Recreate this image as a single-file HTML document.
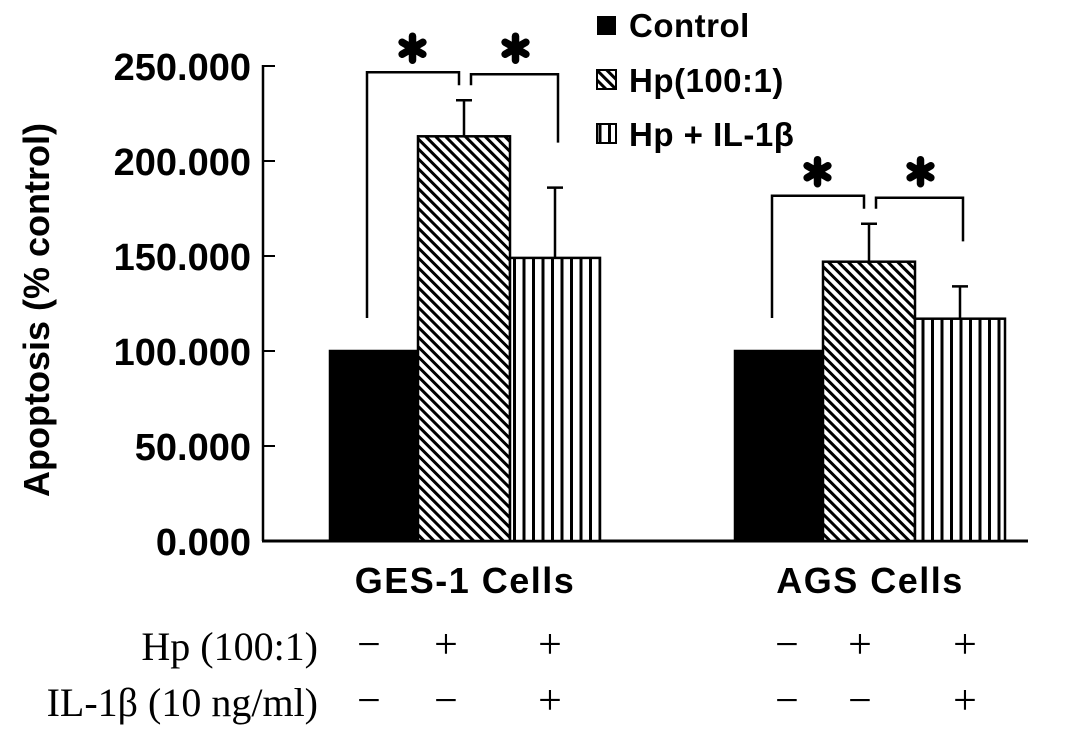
<!DOCTYPE html>
<html><head><meta charset="utf-8"><style>
html,body{margin:0;padding:0;background:#fff;}
svg{display:block;}
text{font-family:"Liberation Sans",sans-serif;fill:#000;}
.b{font-weight:bold;}
.s{font-family:"Liberation Serif",serif;}
</style></head><body>
<svg id="chart" width="1087" height="741" viewBox="0 0 1087 741">
<defs>
<pattern id="diag" patternUnits="userSpaceOnUse" width="7" height="7" patternTransform="rotate(-45)">
<rect width="7" height="7" fill="#fff"/><rect x="0" y="0" width="3" height="7" fill="#000"/></pattern>
<pattern id="vert" patternUnits="userSpaceOnUse" width="9.5" height="10">
<rect width="9.5" height="10" fill="#fff"/><rect x="0" y="0" width="3" height="10" fill="#000"/></pattern>
</defs>
<g id="plot"></g>
<text class="s" x="318" y="660" text-anchor="end" font-size="40">Hp (100:1)</text>
<text class="s" x="318" y="716" text-anchor="end" font-size="40">IL-1β (10 ng/ml)</text>
<g>
<rect x="597" y="16" width="19" height="19" fill="#000"/>
<text class="b" x="629" y="37" font-size="33" letter-spacing="0.5">Control</text>
<rect x="597" y="70" width="19" height="19" fill="url(#diag)" stroke="#000" stroke-width="2"/>
<text class="b" x="629" y="92" font-size="33" letter-spacing="0.5">Hp(100:1)</text>
<rect x="597" y="124" width="19" height="19" fill="url(#vert)" stroke="#000" stroke-width="2"/>
<text class="b" x="629" y="146" font-size="33" letter-spacing="0.5">Hp + IL-1β</text>
</g>
</svg>
<script>
const groups = ["GES-1 Cells", "AGS Cells"];
const controlVals = [100, 100];
const hpVals = [213, 147];
const ilVals = [149, 117];
const hpErr = [19, 20];
const ilErr = [37, 17];
const yTicks = [0, 50, 100, 150, 200, 250];
const yTickLabels = ["0.000","50.000","100.000","150.000","200.000","250.000"];

const NS = "http://www.w3.org/2000/svg";
const g = document.getElementById("plot");
const y = v => 541 - v * 1.9;
const groupLeft = [330, 735];
const barW = [88, 92, 90];
function mk(tag, attrs, parent) {
  const e = document.createElementNS(NS, tag);
  for (const k in attrs) e.setAttribute(k, attrs[k]);
  (parent || g).appendChild(e);
  return e;
}
function txt(s, attrs) { const t = mk("text", attrs); t.textContent = s; return t; }
function star(cx, cy) {
  let d = "";
  for (let i = 0; i < 3; i++) {
    const a = Math.PI / 2 + i * Math.PI / 3;
    const dx = 12 * Math.cos(a), dy = 12 * Math.sin(a);
    d += `M${cx - dx},${cy - dy} L${cx + dx},${cy + dy} `;
  }
  const s = mk("path", {d: d, stroke: "#000", "stroke-width": 7.5, "stroke-linecap": "round", fill: "none"});
  
  
}

let e = mk("line", {x1:263, y1:y(0), x2:263, y2:y(250)-1, stroke:"#000","stroke-width":2.5});


e = mk("line", {x1:262, y1:y(0), x2:1028, y2:y(0), stroke:"#000","stroke-width":3});


yTicks.forEach((v, i) => {
  let t = mk("line", {x1:263, y1:y(v), x2:275, y2:y(v), stroke:"#000","stroke-width":2});
  
  
  let l = txt(yTickLabels[i], {x:251, y:y(v)+14, "text-anchor":"end", "font-size":38, class:"b"});
  
  
});
e = txt("Apoptosis (% control)", {x:0, y:0, "text-anchor":"middle", "font-size":36, class:"b", transform:"translate(49,310) rotate(-90)"});



const fills = ["#000", "url(#diag)", "url(#vert)"];
groups.forEach((name, gi) => {
  const vals = [controlVals[gi], hpVals[gi], ilVals[gi]];
  const errs = [0, hpErr[gi], ilErr[gi]];
  let x = groupLeft[gi];
  const centers = [], tops = [];
  vals.forEach((v, si) => {
    const w = barW[si];
    let r = mk("rect", {x:x, y:y(v), width:w, height:y(0)-y(v), fill:fills[si], stroke:"#000","stroke-width":2.5});
    
    
    const cx = x + w/2;
    centers.push(cx); tops.push(v + errs[si]);
    if (errs[si]) {
      let eb = mk("path", {d:`M${cx},${y(v)} V${y(v+errs[si])} M${cx-8},${y(v+errs[si])} H${cx+8}`, stroke:"#000","stroke-width":2.5, fill:"none"});
      
      
    }
    x += w;
  });
  const topY = y(tops[1]) - 28;
  const lx = groupLeft[gi] + 37;
  let b1 = mk("path", {d:`M${lx},${y(vals[0])-33} V${topY} H${centers[1]-5} V${topY+13}`, stroke:"#000","stroke-width":2.5, fill:"none"});
  
  
  let b2 = mk("path", {d:`M${centers[1]+7},${topY+13} V${topY+2} H${centers[2]+3} V${y(tops[2])-45}`, stroke:"#000","stroke-width":2.5, fill:"none"});
  
  
  star((lx+centers[1])/2 - 3, topY - 24);
  star((centers[1]+centers[2])/2 + 6, topY - 24);
  let gl = txt(name, {x:(groupLeft[gi]+x)/2, y:593, "text-anchor":"middle", "font-size":36, "letter-spacing":1.5, class:"b"});
  
  
  const hpSigns = ["\u2212","+","+"], ilSigns = ["\u2212","\u2212","+"];
  const sx = gi === 0 ? [369, 446, 550] : [787, 860, 965];
  sx.forEach((px, i) => {
    let a = txt(hpSigns[i], {x:px, y:658, "text-anchor":"middle", "font-size":42, class:"s"});
    
    
    let c = txt(ilSigns[i], {x:px, y:714, "text-anchor":"middle", "font-size":42, class:"s"});
    
    
  });
});
</script>
</body></html>
